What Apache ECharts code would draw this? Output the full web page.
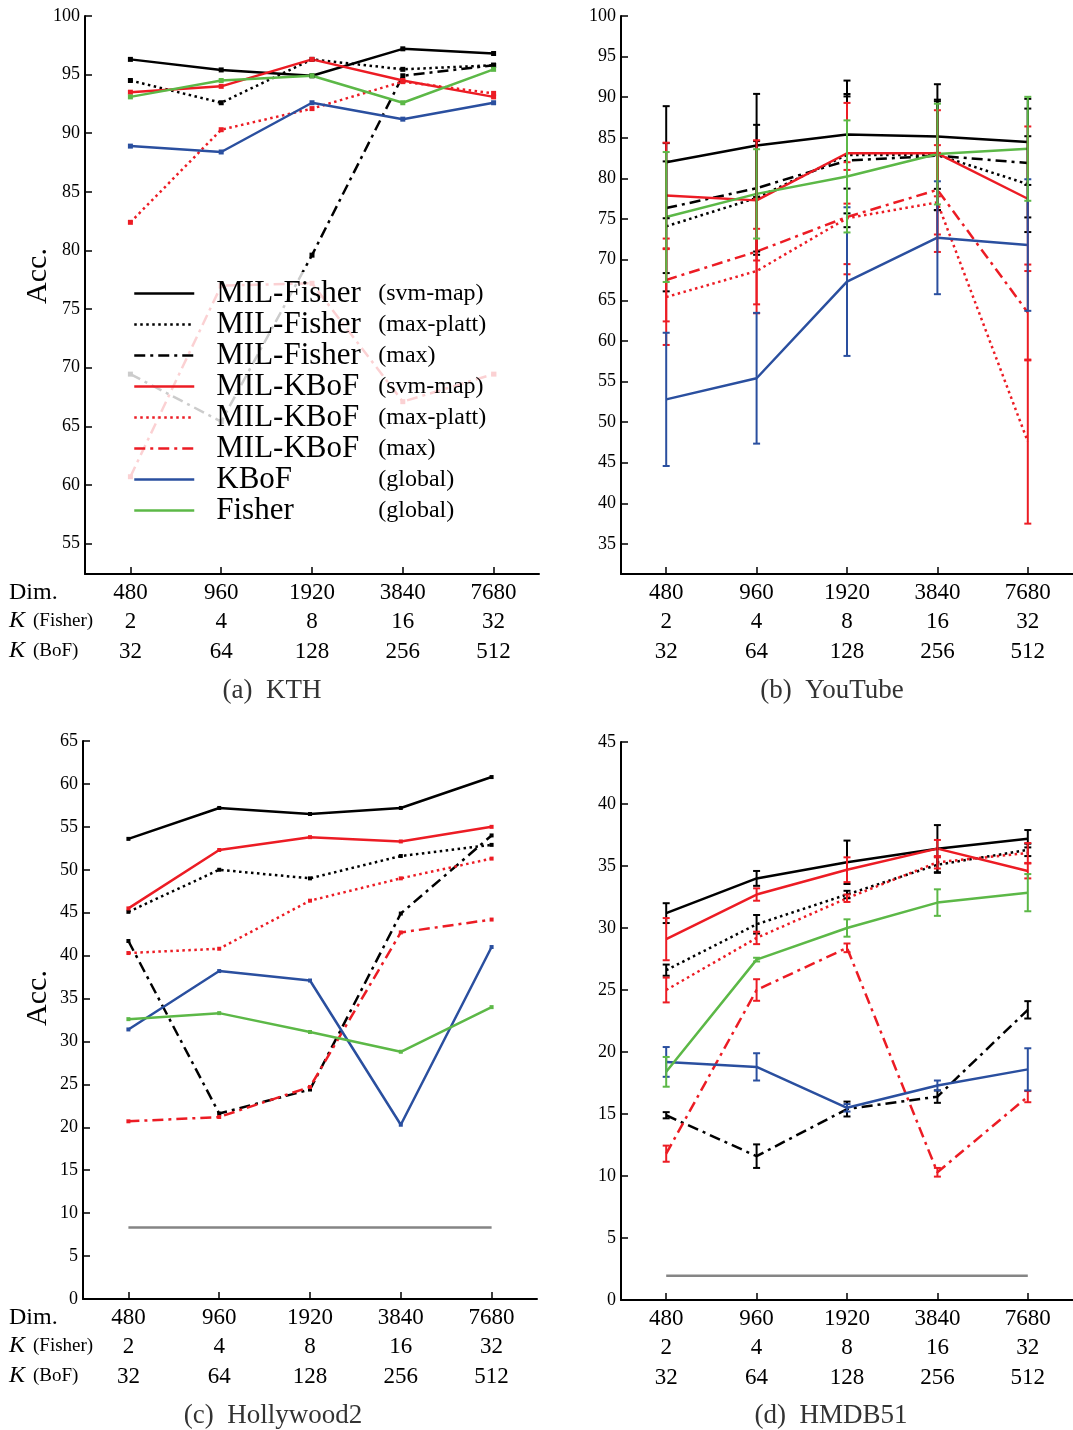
<!DOCTYPE html>
<html>
<head>
<meta charset="utf-8">
<script src="https://cdn.jsdelivr.net/npm/echarts@6/dist/echarts.min.js"></script>
<style>
  html, body { margin: 0; padding: 0; background: #fff; }
  #chart { width: 1073px; height: 1430px; }
</style>
</head>
<body>
<div id="chart"></div>
<script>
// ---- shared axis categories ----
const categories = ['480', '960', '1920', '3840', '7680'];
const kFisher = ['2', '4', '8', '16', '32'];
const kBoF = ['32', '64', '128', '256', '512'];

const seriesNames = [
  'MIL-Fisher (svm-map)', 'MIL-Fisher (max-platt)', 'MIL-Fisher (max)',
  'MIL-KBoF (svm-map)', 'MIL-KBoF (max-platt)', 'MIL-KBoF (max)',
  'KBoF (global)', 'Fisher (global)'
];

// ---- y tick labels ----
const kthTicks = [55, 60, 65, 70, 75, 80, 85, 90, 95, 100];
const ytTicks = [35, 40, 45, 50, 55, 60, 65, 70, 75, 80, 85, 90, 95, 100];
const hwTicks = [0, 5, 10, 15, 20, 25, 30, 35, 40, 45, 50, 55, 60, 65];
const hmTicks = [0, 5, 10, 15, 20, 25, 30, 35, 40, 45];

// ---- (a) KTH ----
const kthFisherSvm   = [96.3, 95.4, 94.9, 97.2, 96.8];
const kthFisherPlatt = [94.5, 92.6, 96.3, 95.45, 95.8];
const kthFisherMax   = [69.45, 65.4, 79.6, 94.9, 95.8];
const kthKbofSvm     = [93.5, 94.0, 96.3, 94.5, 93.1];
const kthKbofPlatt   = [82.4, 90.3, 92.1, 94.4, 93.4];
const kthKbofMax     = [60.7, 77.0, 77.2, 67.1, 69.45];
const kthKbof        = [88.9, 88.4, 92.6, 91.2, 92.6];
const kthFisher      = [93.1, 94.5, 94.9, 92.6, 95.45];

// ---- (b) YouTube: means and half-widths of error bars ----
const ytFisherSvm      = [82.0, 84.06, 85.4, 85.16, 84.5];
const ytFisherSvmErr   = [6.9, 6.35, 6.65, 6.44, 5.3];
const ytFisherPlatt    = [74.1, 77.6, 82.9, 82.9, 79.3];
const ytFisherPlattErr = [8.0, 7.0, 7.2, 6.8, 5.9];
const ytFisherMax      = [76.35, 78.8, 82.2, 82.8, 81.9];
const ytFisherMaxErr   = [8.0, 7.8, 8.2, 6.7, 6.7];
const ytKbofSvm        = [77.9, 77.3, 83.1, 83.1, 77.5];
const ytKbofSvmErr     = [6.5, 7.4, 6.2, 5.3, 8.9];
const ytKbofPlatt      = [65.4, 68.6, 75.1, 77.05, 47.6];
const ytKbofPlattErr   = [5.9, 5.2, 6.9, 6.1, 10.1];
const ytKbofMax        = [67.5, 71.0, 75.25, 78.6, 63.5];
const ytKbofMaxErr     = [5.1, 6.5, 5.8, 5.5, 5.9];
const ytKbof           = [52.8, 55.4, 67.3, 72.7, 71.8];
const ytKbofErr        = [8.2, 8.05, 9.15, 6.95, 8.1];
const ytFisher         = [75.25, 78.1, 80.25, 83.0, 83.65];
const ytFisherErr      = [8.0, 5.5, 6.9, 6.2, 6.4];

// ---- (c) Hollywood2 ----
const hwFisherSvm   = [53.6, 57.2, 56.5, 57.2, 60.8];
const hwFisherPlatt = [45.1, 50.0, 49.0, 51.6, 52.9];
const hwFisherMax   = [41.7, 21.6, 24.4, 44.9, 54.0];
const hwKbofSvm     = [45.5, 52.3, 53.8, 53.3, 55.0];
const hwKbofPlatt   = [40.3, 40.8, 46.4, 49.0, 51.3];
const hwKbofMax     = [20.7, 21.2, 24.7, 42.7, 44.2];
const hwKbof        = [31.4, 38.2, 37.1, 20.3, 41.0];
const hwFisher      = [32.6, 33.3, 31.1, 28.8, 34.0];
const hwChance      = [8.33, 8.33, 8.33, 8.33, 8.33];

// ---- (d) HMDB51 ----
const hmFisherSvm      = [31.2, 34.0, 35.3, 36.4, 37.2];
const hmFisherSvmErr   = [0.8, 0.6, 1.75, 1.9, 0.7];
const hmFisherPlatt    = [26.6, 30.3, 32.7, 35.1, 36.3];
const hmFisherPlattErr = [0.45, 0.75, 0.3, 0.65, 0.5];
const hmFisherMax      = [14.9, 11.6, 15.4, 16.4, 23.4];
const hmFisherMaxErr   = [0.25, 0.95, 0.6, 0.5, 0.7];
const hmKbofSvm        = [29.1, 32.7, 34.7, 36.4, 34.6];
const hmKbofSvmErr     = [1.7, 0.5, 1.0, 0.7, 0.6];
const hmKbofPlatt      = [25.0, 29.2, 32.4, 35.3, 36.05];
const hmKbofPlattErr   = [1.0, 0.5, 0.3, 0.5, 0.8];
const hmKbofMax        = [11.8, 25.0, 28.4, 10.3, 16.4];
const hmKbofMaxErr     = [0.65, 0.87, 0.35, 0.35, 0.45];
const hmKbof           = [19.2, 18.8, 15.5, 17.3, 18.6];
const hmKbofErr        = [1.2, 1.1, 0.3, 0.4, 1.7];
const hmFisher         = [18.4, 27.45, 30.0, 32.05, 32.85];
const hmFisherErr      = [1.2, 0.15, 0.7, 1.07, 1.5];
const hmChance         = [1.96, 1.96, 1.96, 1.96, 1.96];

// ---- styling ----
const FONT = '"Liberation Serif", "Times New Roman", serif';
const BLACK = '#000000', RED = '#ec1c24', BLUE = '#2a4f9f', GREEN = '#5cb847', GRAY = '#858585';
const DOTTED = [2.5, 3.5];
const DASHDOT = [11, 5, 3, 5];
const styles = [
  { color: BLACK, type: 'solid' },
  { color: BLACK, type: DOTTED },
  { color: BLACK, type: DASHDOT },
  { color: RED, type: 'solid' },
  { color: RED, type: DOTTED },
  { color: RED, type: DASHDOT },
  { color: BLUE, type: 'solid' },
  { color: GREEN, type: 'solid' }
];

const panels = [
  { lines: [kthFisherSvm, kthFisherPlatt, kthFisherMax, kthKbofSvm, kthKbofPlatt, kthKbofMax, kthKbof, kthFisher], symbolSize: 5 },
  { lines: [ytFisherSvm, ytFisherPlatt, ytFisherMax, ytKbofSvm, ytKbofPlatt, ytKbofMax, ytKbof, ytFisher],
    errs: [ytFisherSvmErr, ytFisherPlattErr, ytFisherMaxErr, ytKbofSvmErr, ytKbofPlattErr, ytKbofMaxErr, ytKbofErr, ytFisherErr], symbolSize: 0 },
  { lines: [hwFisherSvm, hwFisherPlatt, hwFisherMax, hwKbofSvm, hwKbofPlatt, hwKbofMax, hwKbof, hwFisher], symbolSize: 4, chance: hwChance },
  { lines: [hmFisherSvm, hmFisherPlatt, hmFisherMax, hmKbofSvm, hmKbofPlatt, hmKbofMax, hmKbof, hmFisher],
    errs: [hmFisherSvmErr, hmFisherPlattErr, hmFisherMaxErr, hmKbofSvmErr, hmKbofPlattErr, hmKbofMaxErr, hmKbofErr, hmFisherErr], symbolSize: 0, chance: hmChance }
];

function lineSeries(name, values, st, idx, symbolSize) {
  return {
    type: 'line', name: name, xAxisIndex: idx, yAxisIndex: idx, data: values,
    symbol: symbolSize > 0 ? 'rect' : 'none', symbolSize: symbolSize, showSymbol: symbolSize > 0,
    lineStyle: { color: st.color, width: 2.5, type: st.type },
    itemStyle: { color: st.color },
    z: 3
  };
}

function errorSeries(means, errs, color, idx) {
  return {
    type: 'custom', xAxisIndex: idx, yAxisIndex: idx, z: 4,
    data: means.map((m, i) => [i, m - errs[i], m + errs[i]]),
    encode: { x: 0, y: [1, 2] },
    renderItem: function (params, api) {
      const x = api.value(0);
      const lo = api.coord([x, api.value(1)]);
      const hi = api.coord([x, api.value(2)]);
      const w = 3.5;
      const st = { stroke: color, lineWidth: 2 };
      return {
        type: 'group',
        children: [
          { type: 'line', shape: { x1: lo[0], y1: lo[1], x2: hi[0], y2: hi[1] }, style: st },
          { type: 'line', shape: { x1: lo[0] - w, y1: lo[1], x2: lo[0] + w, y2: lo[1] }, style: st },
          { type: 'line', shape: { x1: hi[0] - w, y1: hi[1], x2: hi[0] + w, y2: hi[1] }, style: st }
        ]
      };
    }
  };
}

// line series of panels without markers come first so the legend takes its icons from them
const series = [];
[1, 3, 0, 2].forEach(function (p) {
  panels[p].lines.forEach(function (vals, k) {
    series.push(lineSeries(seriesNames[k], vals, styles[k], p, panels[p].symbolSize));
  });
});
[2, 3].forEach(function (p) {
  series.push({
    type: 'line', name: 'chance', xAxisIndex: p, yAxisIndex: p, data: panels[p].chance,
    symbol: 'none', lineStyle: { color: GRAY, width: 2.5 }, z: 2
  });
});
[1, 3].forEach(function (p) {
  [0, 1, 2, 3, 4, 5, 6, 7].forEach(function (k) {
    series.push(errorSeries(panels[p].lines[k], panels[p].errs[k], styles[k].color, p));
  });
});

const grids = [
  { left: 85, top: 16, width: 454, height: 558 },
  { left: 621, top: 16, width: 453, height: 558 },
  { left: 83, top: 741, width: 454, height: 558 },
  { left: 621, top: 742, width: 453, height: 558 }
];

const xAxes = grids.map(function (g, i) {
  return {
    type: 'category', gridIndex: i, data: categories, boundaryGap: true,
    axisLine: { show: true, lineStyle: { color: BLACK, width: 2 } },
    axisTick: { show: true, inside: true, length: 7, alignWithLabel: true, interval: 0, lineStyle: { color: BLACK, width: 1.5 } },
    splitLine: { show: false },
    axisLabel: {
      interval: 0, margin: 4, color: BLACK, fontFamily: FONT, fontSize: 23, lineHeight: 29.5,
      formatter: function (v, idx) {
        return '{d|' + v + '}\n{d|' + kFisher[idx] + '}\n{d|' + kBoF[idx] + '}';
      },
      rich: { d: { fontFamily: FONT, fontSize: 23, lineHeight: 29.5, color: BLACK } }
    }
  };
});

const yRanges = [
  { min: 52.4, max: 100, ticks: kthTicks },
  { min: 31.3, max: 100, ticks: ytTicks },
  { min: 0, max: 65, ticks: hwTicks },
  { min: 0, max: 45, ticks: hmTicks }
];
const yAxes = yRanges.map(function (r, i) {
  return {
    type: 'value', gridIndex: i, min: r.min, max: r.max,
    axisLine: { show: true, lineStyle: { color: BLACK, width: 2 } },
    axisTick: { show: true, inside: true, length: 7, customValues: r.ticks, lineStyle: { color: BLACK, width: 1.5 } },
    splitLine: { show: false },
    axisLabel: { customValues: r.ticks, margin: 5, color: BLACK, fontFamily: FONT, fontSize: 18 }
  };
});

function rowLabels(top) {
  const rich = {
    k: { fontFamily: FONT, fontStyle: 'italic', fontSize: 24 },
    s: { fontFamily: FONT, fontSize: 19, padding: [0, 0, 0, 8] }
  };
  return [
    { type: 'text', left: 9, top: top - 11, style: { text: 'Dim.', font: '24px ' + FONT, fill: BLACK } },
    { type: 'text', left: 9, top: top + 17, style: { text: '{k|K}{s|(Fisher)}', fill: BLACK, rich: rich } },
    { type: 'text', left: 9, top: top + 47, style: { text: '{k|K}{s|(BoF)}', fill: BLACK, rich: rich } }
  ];
}

function accLabel(cy) {
  return { type: 'text', x: 38, y: cy, rotation: Math.PI / 2,
    style: { text: 'Acc.', font: '30px ' + FONT, fill: BLACK, align: 'center', verticalAlign: 'middle' } };
}

function caption(text, cx, cy) {
  return { type: 'text', x: cx, y: cy,
    style: { text: text, font: '27px ' + FONT, fill: '#333', align: 'center', verticalAlign: 'middle' } };
}

const graphics = [].concat(
  rowLabels(592), rowLabels(1317),
  [accLabel(276), accLabel(998),
   caption('(a)  KTH', 272, 691), caption('(b)  YouTube', 832, 691),
   caption('(c)  Hollywood2', 273, 1416), caption('(d)  HMDB51', 831, 1416)]
);

const chart = echarts.init(document.getElementById('chart'), null, { renderer: 'canvas' });
chart.setOption({
  animation: false,
  backgroundColor: '#ffffff',
  grid: grids,
  xAxis: xAxes,
  yAxis: yAxes,
  legend: {
    data: seriesNames,
    orient: 'vertical', left: 123, top: 272,
    padding: [6, 10, 6, 10], itemGap: 0, itemWidth: 60, itemHeight: 14,
    backgroundColor: 'rgba(255,255,255,0.8)',
    selectedMode: false,
    itemStyle: { opacity: 0 },
    lineStyle: { width: 2.5 },
    formatter: function (n) {
      const i = n.indexOf(' (');
      return '{a|' + n.slice(0, i) + '}{b|' + n.slice(i + 1) + '}';
    },
    textStyle: {
      color: BLACK,
      rich: {
        a: { fontFamily: FONT, fontSize: 31, width: 162, padding: [0, 0, 0, 17], lineHeight: 32, color: BLACK },
        b: { fontFamily: FONT, fontSize: 24, lineHeight: 32, color: BLACK }
      }
    }
  },
  graphic: graphics,
  series: series
});
</script>
</body>
</html>
